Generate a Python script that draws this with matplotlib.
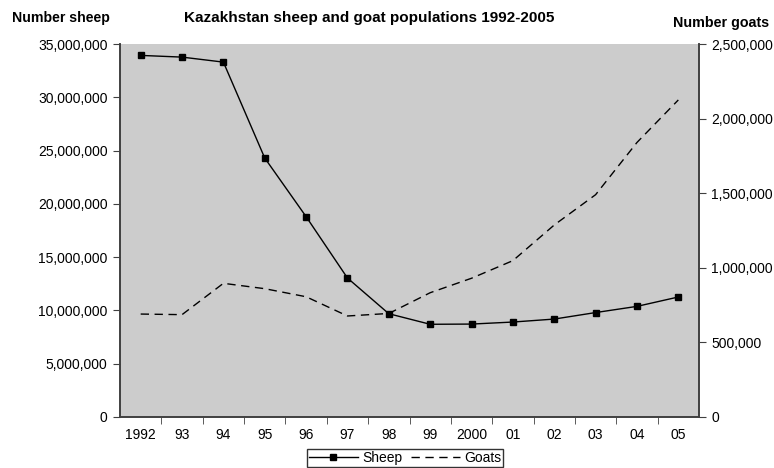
import matplotlib
matplotlib.use("Agg")
import matplotlib.pyplot as plt
from matplotlib.ticker import FuncFormatter, FixedLocator

plt.rcParams['font.family'] = ['Liberation Sans', 'DejaVu Sans']

years = ['1992', '93', '94', '95', '96', '97', '98', '99', '2000', '01', '02', '03', '04', '05']
sheep = [33930000, 33770000, 33300000, 24300000, 18800000, 13040000, 9690000,
         8700000, 8720000, 8910000, 9190000, 9800000, 10380000, 11260000]
goats = [690000, 686000, 896000, 860000, 806000, 677000, 694000,
         833000, 930000, 1048000, 1287000, 1490000, 1840000, 2125000]

fig = plt.figure(figsize=(7.74, 4.68), dpi=100)
ax = fig.add_axes([120 / 774, 1 - 417 / 468, (699 - 120) / 774, (417 - 44) / 468])
ax2 = ax.twinx()

x = list(range(len(years)))
axis_col = '#404040'
ax.set_facecolor('#cccccc')

l1, = ax.plot(x, sheep, color='black', lw=1, marker='s', markersize=5, label='Sheep')
l2, = ax2.plot(x, goats, color='black', lw=1, dashes=(6, 4), label='Goats')

ax.set_xlim(-0.5, len(years) - 0.5)
ax.set_ylim(0, 35000000)
ax2.set_ylim(0, 2500000)

fmt = FuncFormatter(lambda v, p: f'{int(v):,}')
ax.set_yticks(range(0, 35000001, 5000000))
ax.yaxis.set_major_formatter(fmt)
ax2.set_yticks(range(0, 2500001, 500000))
ax2.yaxis.set_major_formatter(fmt)

# category labels at centres, tick marks on the boundaries
ax.set_xticks(x)
ax.set_xticklabels(years)
ax.xaxis.set_minor_locator(FixedLocator([i + 0.5 for i in x[:-1]]))
ax.tick_params(axis='x', which='major', length=0, pad=8, labelsize=10)
ax.tick_params(axis='x', which='minor', length=5, color=axis_col, direction='out')
ax.tick_params(axis='y', length=5, color=axis_col, direction='out', labelsize=10, pad=4)
ax2.tick_params(axis='y', length=5, color=axis_col, direction='out', labelsize=10, pad=4)

for a in (ax, ax2):
    a.spines['top'].set_visible(False)
    for s in ('left', 'right', 'bottom'):
        a.spines[s].set_color(axis_col)
        a.spines[s].set_linewidth(1.2)

fig.text(12 / 774, 1 - 18 / 468, 'Number sheep', fontsize=10.2, fontweight='bold', va='center')
fig.text(369 / 774, 1 - 18 / 468, 'Kazakhstan sheep and goat populations 1992-2005',
         fontsize=11, fontweight='bold', ha='center', va='center')
fig.text(769 / 774, 1 - 23 / 468, 'Number goats', fontsize=10.3, fontweight='bold',
         ha='right', va='center')

leg = fig.legend([l1, l2], ['Sheep', 'Goats'], loc='center', ncol=2,
                 bbox_to_anchor=(405 / 774, 1 - 458 / 468), fontsize=10,
                 frameon=True, fancybox=False, handlelength=3.5, columnspacing=0.65,
                 handletextpad=0.3, borderpad=0.15, borderaxespad=0)
leg.get_frame().set_edgecolor('black')
leg.get_frame().set_linewidth(1)

fig.savefig('out.png', dpi=100)
